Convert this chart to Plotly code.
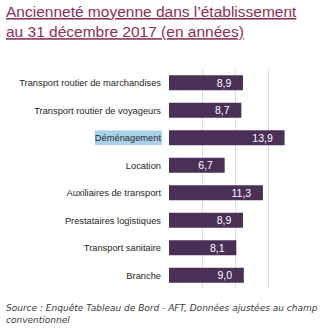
import plotly.graph_objects as go

categories = [
    "Transport routier de marchandises",
    "Transport routier de voyageurs",
    "Déménagement",
    "Location",
    "Auxiliaires de transport",
    "Prestataires logistiques",
    "Transport sanitaire",
    "Branche",
]
values = [8.9, 8.7, 13.9, 6.7, 11.3, 8.9, 8.1, 9.0]
x_ticks = [0, 4, 8, 12, 16]

title_text = "Ancienneté moyenne dans l’établissement<br>au 31 décembre 2017 (en années)"
source_text = "Source : Enquête Tableau de Bord - AFT, Données ajustées au champ<br>conventionnel"
highlighted = "Déménagement"

BAR = "#4a3057"
TITLE = "#8c2f52"

W, H = 328, 329
L, R, T, B = 169, 26, 69, 40
PW = W - L - R

fig = go.Figure(
    go.Bar(
        x=values,
        y=categories,
        orientation="h",
        marker=dict(color=BAR, line=dict(width=0)),
        texttemplate="%{x:.1f}   ",
        textposition="inside",
        insidetextanchor="end",
        constraintext="none",
        textfont=dict(color="white", size=10.5, family="Liberation Sans"),
        width=0.55,
        hoverinfo="skip",
    )
)

hi = categories.index(highlighted)
fig.add_shape(
    type="rect", xref="paper", yref="y",
    x0=(95 - L) / PW, x1=(162 - L) / PW, y0=hi - 0.26, y1=hi + 0.26,
    fillcolor="#a9d2ea", line=dict(width=0), layer="below",
)

fig.update_layout(
    width=W, height=H,
    margin=dict(l=L, r=R, t=T, b=B),
    paper_bgcolor="white", plot_bgcolor="white",
    separators=", ",
    showlegend=False,
    xaxis=dict(
        range=[0, 16], tickvals=x_ticks, showticklabels=False,
        showgrid=True, gridcolor="#dcdcdc", gridwidth=1,
        zeroline=False, showline=False, fixedrange=True, automargin=False,
    ),
    yaxis=dict(
        autorange="reversed", showgrid=False, showline=False,
        ticks="", ticklabelstandoff=7, automargin=False,
        tickfont=dict(family="Liberation Sans", size=9.3, color="#262626"),
    ),
    annotations=[
        dict(
            text=f"<u>{title_text}</u>", xref="paper", yref="paper",
            x=-L / PW, xshift=4, y=1, yshift=T - 1, xanchor="left", yanchor="top",
            align="left", showarrow=False,
            font=dict(family="Liberation Sans", size=15.5, color=TITLE),
        ),
        dict(
            text=f"<i>{source_text}</i>", xref="paper", yref="paper",
            x=-L / PW, xshift=4, y=0, yshift=-12, xanchor="left", yanchor="top",
            align="left", showarrow=False,
            font=dict(family="DejaVu Sans", size=9, color="#3a3a3a"),
        ),
    ],
)

fig.write_html("out.html")
